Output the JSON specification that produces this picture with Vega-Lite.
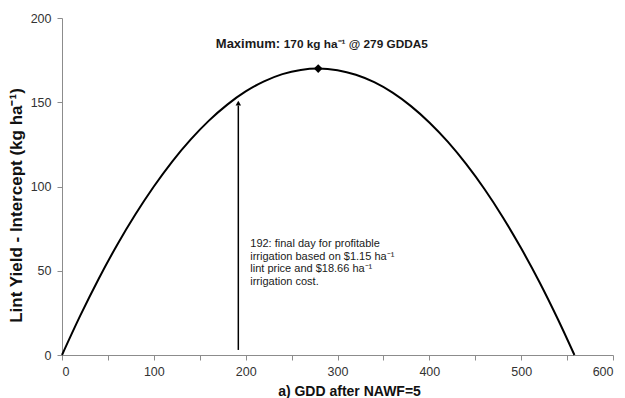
{
  "$schema": "https://vega.github.io/schema/vega-lite/v6.json",
  "autosize": {"type": "none"},
  "width": 551,
  "height": 337,
  "padding": {"left": 62, "top": 18, "right": 12, "bottom": 43},
  "background": "white",
  "config": {
    "view": {"stroke": null},
    "font": "Liberation Sans",
    "axis": {
      "domainColor": "#8c8c8c",
      "tickColor": "#8c8c8c",
      "grid": false,
      "labelFont": "Liberation Sans",
      "labelFontSize": 12.5,
      "labelColor": "#333333",
      "titleFont": "Liberation Sans",
      "titleFontWeight": "bold",
      "titleColor": "#111111",
      "tickSize": 5
    }
  },
  "datasets": {
    "curve": [
      {"gdd": 0, "yield": 0}, {"gdd": 20, "yield": 23.5}, {"gdd": 40, "yield": 45.3},
      {"gdd": 60, "yield": 65.3}, {"gdd": 80, "yield": 83.5}, {"gdd": 100, "yield": 100.0},
      {"gdd": 120, "yield": 114.8}, {"gdd": 140, "yield": 127.8}, {"gdd": 160, "yield": 139.1},
      {"gdd": 180, "yield": 148.6}, {"gdd": 200, "yield": 156.4}, {"gdd": 220, "yield": 162.4},
      {"gdd": 240, "yield": 166.7}, {"gdd": 260, "yield": 169.2}, {"gdd": 279, "yield": 170},
      {"gdd": 300, "yield": 169.0}, {"gdd": 320, "yield": 166.3}, {"gdd": 340, "yield": 161.9},
      {"gdd": 360, "yield": 155.7}, {"gdd": 380, "yield": 147.7}, {"gdd": 400, "yield": 138.0},
      {"gdd": 420, "yield": 126.6}, {"gdd": 440, "yield": 113.4}, {"gdd": 460, "yield": 98.5},
      {"gdd": 480, "yield": 81.8}, {"gdd": 500, "yield": 63.3}, {"gdd": 520, "yield": 43.2},
      {"gdd": 540, "yield": 21.2}, {"gdd": 558, "yield": 0}
    ],
    "maxpt": [{"gdd": 279, "yield": 170}],
    "arrow": [{"gdd": 192, "y1": 3, "y2": 148, "tip": 149.5}],
    "note": [{"gdd": 205, "yield": 69.5, "label": ["192: final day for profitable", "irrigation based on $1.15 ha⁻¹", "lint price and $18.66 ha⁻¹", "irrigation cost."]}],
    "maxlabel": [{"gdd": 237.5, "yield": 184.5, "a": "Maximum:", "gdd2": 241.5, "b": "170 kg ha⁻¹ @ 279 GDDA5"}]
  },
  "layer": [
    {
      "data": {"name": "curve"},
      "mark": {"type": "line", "color": "black", "strokeWidth": 2, "interpolate": "monotone"},
      "encoding": {
        "x": {"field": "gdd", "type": "quantitative",
              "scale": {"domain": [0, 600], "nice": false},
              "axis": {"values": [0, 50, 100, 150, 200, 250, 300, 350, 400, 450, 500, 550, 600],
                       "labelExpr": "datum.value % 100 === 0 ? datum.label : ''",
                       "title": "a) GDD after NAWF=5", "titleFontSize": 14, "titlePadding": 7, "titleX": 287, "labelPadding": 5}},
        "y": {"field": "yield", "type": "quantitative",
              "scale": {"domain": [0, 200], "nice": false},
              "axis": {"values": [0, 50, 100, 150, 200], "title": "Lint Yield - Intercept (kg ha⁻¹)",
                       "titleFontSize": 17, "titleY": 187, "titlePadding": 5, "labelPadding": 6}}
      }
    },
    {
      "data": {"name": "maxpt"},
      "mark": {"type": "point", "shape": "diamond", "filled": true, "color": "black", "size": 75, "opacity": 1},
      "encoding": {
        "x": {"field": "gdd", "type": "quantitative"},
        "y": {"field": "yield", "type": "quantitative"}
      }
    },
    {
      "data": {"name": "arrow"},
      "mark": {"type": "rule", "color": "black", "strokeWidth": 1.5},
      "encoding": {
        "x": {"field": "gdd", "type": "quantitative"},
        "y": {"field": "y1", "type": "quantitative"},
        "y2": {"field": "y2"}
      }
    },
    {
      "data": {"name": "arrow"},
      "mark": {"type": "point", "shape": "triangle-up", "filled": true, "color": "black", "size": 30, "opacity": 1},
      "encoding": {
        "x": {"field": "gdd", "type": "quantitative"},
        "y": {"field": "tip", "type": "quantitative"}
      }
    },
    {
      "data": {"name": "note"},
      "mark": {"type": "text", "align": "left", "baseline": "top", "font": "Liberation Sans", "fontSize": 11, "lineHeight": 12.8, "color": "#1a1a1a"},
      "encoding": {
        "x": {"field": "gdd", "type": "quantitative"},
        "y": {"field": "yield", "type": "quantitative"},
        "text": {"field": "label"}
      }
    },
    {
      "data": {"name": "maxlabel"},
      "mark": {"type": "text", "align": "right", "baseline": "middle", "font": "Liberation Sans", "fontSize": 13, "fontWeight": "bold", "color": "#1a1a1a"},
      "encoding": {
        "x": {"field": "gdd", "type": "quantitative"},
        "y": {"field": "yield", "type": "quantitative"},
        "text": {"field": "a"}
      }
    },
    {
      "data": {"name": "maxlabel"},
      "mark": {"type": "text", "align": "left", "baseline": "middle", "font": "Liberation Sans", "fontSize": 11.8, "fontWeight": "bold", "color": "#1a1a1a"},
      "encoding": {
        "x": {"field": "gdd2", "type": "quantitative"},
        "y": {"field": "yield", "type": "quantitative"},
        "text": {"field": "b"}
      }
    }
  ]
}
